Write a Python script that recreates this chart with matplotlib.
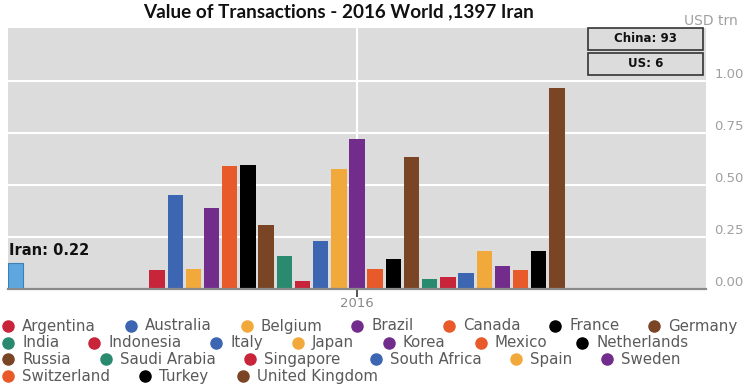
import matplotlib
matplotlib.use("Agg")
import matplotlib.pyplot as plt
from matplotlib.lines import Line2D
from matplotlib.patches import Rectangle

# data
COUNTRIES = ["Argentina", "Australia", "Belgium", "Brazil", "Canada", "France",
             "Germany", "India", "Indonesia", "Italy", "Japan", "Korea", "Mexico",
             "Netherlands", "Russia", "Saudi Arabia", "Singapore", "South Africa",
             "Spain", "Sweden", "Switzerland", "Turkey", "United Kingdom"]
VALUES = [0.09, 0.45, 0.095, 0.39, 0.59, 0.595, 0.31, 0.16, 0.04, 0.23, 0.575,
          0.72, 0.095, 0.145, 0.635, 0.05, 0.06, 0.075, 0.185, 0.11, 0.09,
          0.185, 0.965]
YEAR = 2016
IRAN_X = 2015.5
IRAN_VALUE = 0.125
IRAN_LABEL = "Iran: 0.22"
CALLOUTS = ["China: 93", "US: 6"]
YTICKS = [0.0, 0.25, 0.5, 0.75, 1.0]
TITLE = "Value of Transactions - 2016 World ,1397 Iran"
UNIT = "USD trn"

PALETTE = ["#c8243a", "#3c66b1", "#f2a93c", "#722c8c", "#e85a29", "#000000",
           "#7a4525", "#2a8a6f"]
IRAN_COLOR = "#5ea6de"
BG = "#dcdcdc"

W, H = 750, 386
STEP = 1 / 38.4          # group spacing in years
BAR_W = 0.85 * STEP


def px(x, y):
    """pixel (from top-left) -> figure fraction"""
    return x / W, 1 - y / H


fig = plt.figure(figsize=(7.5, 3.86), dpi=100)
ax = fig.add_axes([8 / W, 1 - 289 / H, 698 / W, 261 / H])
ax.set_facecolor(BG)

n = len(COUNTRIES)
xs = [YEAR + (i - (n - 1) / 2) * STEP for i in range(n)]
colors = [PALETTE[i % len(PALETTE)] for i in range(n)]
ax.bar(xs, VALUES, width=BAR_W, color=colors, zorder=3)
ax.bar([IRAN_X], [IRAN_VALUE], width=BAR_W, align="edge", color=IRAN_COLOR,
       edgecolor="#3f7fb8", linewidth=0.8, zorder=3)
ax.text(IRAN_X + 0.002, IRAN_VALUE + 0.025, IRAN_LABEL, fontsize=10.5,
        fontweight="bold", color="#111", ha="left", va="bottom", zorder=4)

ax.set_xlim(2015.5, 2016.5)
ax.set_ylim(0, 1.255)
for s in ax.spines.values():
    s.set_visible(False)
ax.set_yticks(YTICKS)
ax.set_yticklabels([f"{v:.2f}" for v in YTICKS])
ax.yaxis.tick_right()
ax.tick_params(axis="y", length=0, pad=6, labelsize=9.5, labelcolor="#a0a0a0")
for lab in ax.get_yticklabels():
    lab.set_verticalalignment("bottom")
ax.grid(axis="y", color="white", lw=1.5, zorder=1)
ax.axvline(YEAR, color="white", lw=1.5, zorder=1)
ax.axhline(0, color="#8a8a8a", lw=1.6, zorder=4, clip_on=False)
ax.set_xticks([YEAR])
ax.set_xticklabels([str(YEAR)])
ax.tick_params(axis="x", length=5.5, width=1.4, color="#555", pad=0,
               labelsize=9.5, labelcolor="#8a8a8a")

fig.text(*px(339, 12), TITLE, fontsize=13.6, fontweight="bold",
         family=["Lato", "DejaVu Sans"], ha="center", va="center", color="#111")
fig.text(*px(684, 21), UNIT, fontsize=10, color="#a0a0a0", ha="left", va="center")

# callout boxes top right
for k, txt in enumerate(CALLOUTS):
    top = 28 + k * 24.5
    x0, y0 = px(588, top + 22)
    fig.add_artist(Rectangle((x0, y0), 115 / W, 22 / H, transform=fig.transFigure,
                             facecolor=BG, edgecolor="#333", lw=1.2, zorder=5))
    fig.text(*px(645.5, top + 11), txt, fontsize=8.5, fontweight="bold",
             ha="center", va="center", color="#111", zorder=6)

# legend, flowing left to right like the original
renderer = fig.canvas.get_renderer()
x, row = 8, 0
for name, c in zip(COUNTRIES, colors):
    t = fig.text(0, 0, name, fontsize=10.8, color="#5a5a5a", va="center")
    tw = t.get_window_extent(renderer).width
    if x + 14 + tw > 746:
        x, row = 8, row + 1
    y = 326 + row * 16.7
    t.set_position(px(x + 14, y))
    fig.add_artist(Line2D([x / W], [1 - y / H], transform=fig.transFigure,
                          marker="o", ms=8, color=c, ls=""))
    x = x + 14 + tw + 35

fig.savefig("out.png", dpi=100)
